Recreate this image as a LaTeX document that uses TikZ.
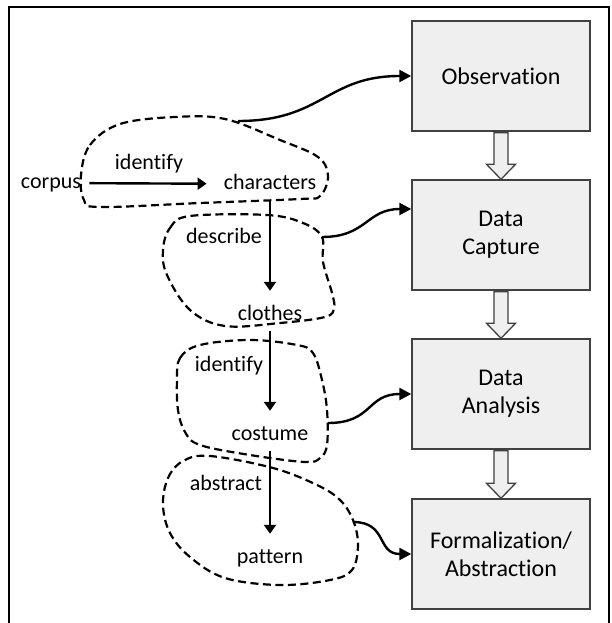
\documentclass[tikz,border=0pt]{standalone}
\usepackage{fontspec}
\setmainfont{Carlito}[Ligatures=NoCommon]
\usetikzlibrary{arrows.meta,calc}
\definecolor{boxfill}{RGB}{239,239,239}
\definecolor{boxline}{RGB}{64,64,64}

\begin{document}
\begin{tikzpicture}[x=1pt, y=-1pt,
  stage/.style={draw=boxline, fill=boxfill, line width=1.4pt, minimum width=178pt,
    minimum height=110pt, align=center, inner sep=0pt, font=\fontsize{24}{28}\selectfont},
  lbl/.style={font=\fontsize{22}{26}\selectfont, inner sep=2pt, text height=14pt,
    text depth=4pt, anchor=base},
  flow/.style={-{Triangle[length=9pt,width=12pt]}, line width=2.4pt},
  link/.style={-{Triangle[length=12pt,width=12pt]}, line width=2.4pt},
  blob/.style={line width=2.2pt, dash pattern=on 8pt off 4.5pt},
  hollow/.style={draw=boxline, fill=boxfill, line width=1.3pt, line join=miter}]
  \useasboundingbox (0,0) rectangle (611,623);
  % frame
  \draw[line width=2.5pt] (9,623) -- (9,7) -- (609,7) -- (609,623);
  % stages
  \node[stage] (obs)  at (501,76)  {Observation};
  \node[stage] (cap)  at (501,235) {Data\\Capture};
  \node[stage] (ana)  at (501,394) {Data\\Analysis};
  \node[stage] (form) at (501,554) {Formalization/\\Abstraction};
  \foreach \src/\dst in {obs/cap, cap/ana, ana/form}
    \draw[hollow] ([xshift=-7pt,yshift=-1pt]\src.south) -- ([xshift=-7pt,yshift=15pt]\dst.north)
      -- ([xshift=-14.5pt,yshift=15pt]\dst.north) -- (\dst.north)
      -- ([xshift=14.5pt,yshift=15pt]\dst.north) -- ([xshift=7pt,yshift=15pt]\dst.north)
      -- ([xshift=7pt,yshift=-1pt]\src.south) -- cycle;
  % objects
  \node[lbl] (corpus)  at (51,188)  {corpus};
  \node[lbl] (chars)   at (270,189) {characters};
  \node[lbl] (clothes) at (270,320) {clothes};
  \node[lbl] (costume) at (270,440) {costume};
  \node[lbl] (pattern) at (270,563) {pattern};
  % actions
  \node[lbl] (ident1) at (149,169) {identify};
  \node[lbl] (descr)  at (224,243) {describe};
  \node[lbl] (ident2) at (229,371) {identify};
  \node[lbl] (abstr)  at (226,490) {abstract};
  \draw[flow, shorten <=6pt, shorten >=15pt] (corpus) -- (chars);
  \foreach \src/\dst in {chars/clothes, clothes/costume, costume/pattern}
    \draw[flow, shorten <=5pt, shorten >=13pt] (\src.south) -- (\src.south |- \dst.north);
  % groups
  \draw[blob] plot[smooth cycle, tension=0.6] coordinates {(81,175) (90,145) (120,124)
    (175,117) (225,119) (280,140) (318,157) (328,176) (320,196) (300,199) (200,203)
    (100,207) (84,200)};
  \draw[blob] plot[smooth cycle, tension=0.6] coordinates {(163,250) (170,228) (190,216)
    (267,215) (303,223) (322,237) (323,262) (332,293) (334,308) (325,317) (280,323)
    (225,326) (190,310) (167,275)};
  \draw[blob] plot[smooth cycle, tension=0.6] coordinates {(177,380) (180,358) (200,345)
    (250,340) (297,345) (313,353) (322,380) (327,410) (327,445) (320,458) (305,462)
    (250,455) (200,445) (185,432) (178,410)};
  \draw[blob] plot[smooth cycle, tension=0.6] coordinates {(163,505) (168,478) (183,461)
    (210,456) (273,468) (317,485) (340,500) (353,520) (358,545) (352,570) (330,580)
    (280,585) (225,578) (190,557) (170,533)};
  \coordinate (g1) at (238,121);
  \coordinate (g2) at (322,237);
  \coordinate (g3) at (328,423);
  \coordinate (g4) at (353,522);
  % links to stages
  \draw[link] (g1) .. controls +(85,0) and +(-85,0) .. (obs.west);
  \draw[link] (g2) .. controls +(45,0) and +(-45,0) .. ([yshift=26pt]cap.west);
  \draw[link] (g3) .. controls +(45,0) and +(-45,0) .. (ana.west);
  \draw[link] (g4) .. controls +(35,0) and +(-35,0) .. (form.west);
\end{tikzpicture}
\end{document}
